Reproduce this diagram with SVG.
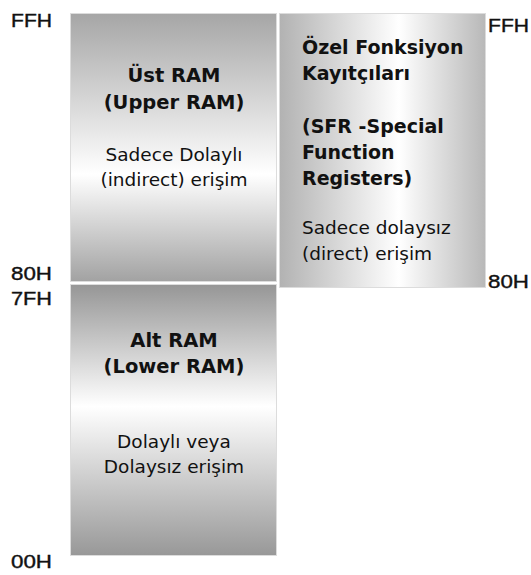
<svg xmlns="http://www.w3.org/2000/svg" width="531" height="575" viewBox="0 0 531 575">
  <defs>
    <linearGradient id="gUpper" x1="0" y1="0" x2="0" y2="1">
      <stop offset="0" stop-color="#a6a6a6"/>
      <stop offset="0.6" stop-color="#ffffff"/>
      <stop offset="1" stop-color="#a2a2a2"/>
    </linearGradient>
    <linearGradient id="gLower" x1="0" y1="0" x2="0" y2="1">
      <stop offset="0" stop-color="#969696"/>
      <stop offset="0.45" stop-color="#ffffff"/>
      <stop offset="1" stop-color="#989898"/>
    </linearGradient>
    <linearGradient id="gSfr" x1="0" y1="0" x2="1" y2="0">
      <stop offset="0" stop-color="#b2b2b2"/>
      <stop offset="0.58" stop-color="#ffffff"/>
      <stop offset="1" stop-color="#b8b8b8"/>
    </linearGradient>
  </defs>
  <style>
    .box { stroke: #dcdcdc; stroke-width: 1; }
    .addr { font-family: "Liberation Sans", Arial, sans-serif; font-size: 19px; fill: #111; stroke: #111; stroke-width: 0.4; }
    .title { font-family: "DejaVu Sans", Verdana, sans-serif; font-size: 19.5px; font-weight: bold; fill: #111; }
    .sfrt { font-size: 19px; }
    .body { font-family: "DejaVu Sans", Verdana, sans-serif; font-size: 18.5px; fill: #111; }
    .mid { text-anchor: middle; }
  </style>

  <g id="upper-ram">
    <rect class="box" x="70.5" y="13.5" width="206" height="268" fill="url(#gUpper)"/>
    <text class="title mid" x="174" y="82">Üst RAM</text>
    <text class="title mid" x="174" y="109">(Upper RAM)</text>
    <text class="body mid" x="174" y="161">Sadece Dolaylı</text>
    <text class="body mid" x="174" y="186">(indirect) erişim</text>
  </g>

  <g id="lower-ram">
    <rect class="box" x="70.5" y="284.5" width="206" height="271" fill="url(#gLower)"/>
    <text class="title mid" x="174" y="347">Alt RAM</text>
    <text class="title mid" x="174" y="373">(Lower RAM)</text>
    <text class="body mid" x="174" y="448">Dolaylı veya</text>
    <text class="body mid" x="174" y="473">Dolaysız erişim</text>
  </g>

  <g id="sfr">
    <rect class="box" x="279.5" y="13.5" width="206" height="274" fill="url(#gSfr)"/>
    <text class="title sfrt" x="302" y="54">Özel Fonksiyon</text>
    <text class="title sfrt" x="302" y="80">Kayıtçıları</text>
    <text class="title sfrt" x="302" y="133">(SFR -Special</text>
    <text class="title sfrt" x="302" y="159">Function</text>
    <text class="title sfrt" x="302" y="185">Registers)</text>
    <text class="body" x="302" y="234">Sadece dolaysız</text>
    <text class="body" x="302" y="260">(direct) erişim</text>
  </g>

  <g id="address-labels">
    <text class="addr" x="11" y="27" textLength="41" lengthAdjust="spacingAndGlyphs">FFH</text>
    <text class="addr" x="11" y="280" textLength="41" lengthAdjust="spacingAndGlyphs">80H</text>
    <text class="addr" x="11" y="305" textLength="41" lengthAdjust="spacingAndGlyphs">7FH</text>
    <text class="addr" x="11" y="568" textLength="41" lengthAdjust="spacingAndGlyphs">00H</text>
    <text class="addr" x="488" y="32" textLength="41" lengthAdjust="spacingAndGlyphs">FFH</text>
    <text class="addr" x="488" y="288" textLength="41" lengthAdjust="spacingAndGlyphs">80H</text>
  </g>
</svg>
